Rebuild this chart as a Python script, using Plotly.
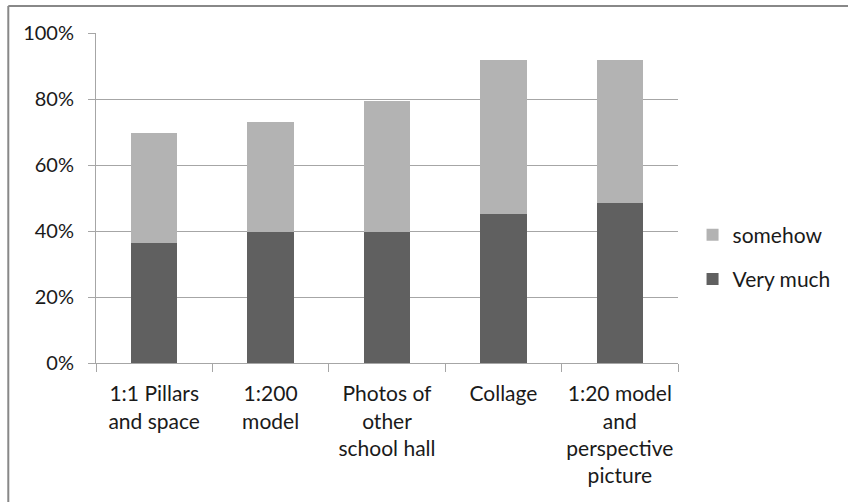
import plotly.graph_objects as go

# Survey answers: share of respondents per presentation method
categories = [
    "1:1 Pillars<br>and space",
    "1:200<br>model",
    "Photos of<br>other<br>school hall",
    "Collage",
    "1:20 model<br>and<br>perspective<br>picture",
]
very_much = [0.364, 0.397, 0.397, 0.452, 0.485]
somehow = [0.333, 0.333, 0.397, 0.466, 0.433]

FONT = "Lato"
TEXT = "#1a1a1a"
GRID = "#a6a6a6"

fig = go.Figure()
fig.add_trace(go.Bar(
    x=categories, y=very_much, name="Very much",
    marker=dict(color="#606060", line=dict(width=0)),
    legendgroup="a", legendrank=2,
))
fig.add_trace(go.Bar(
    x=categories, y=somehow, name="somehow",
    marker=dict(color="#b3b3b3", line=dict(width=0)),
    legendgroup="b", legendrank=1,
))

fig.update_layout(
    width=848, height=502,
    margin=dict(l=96, r=168, t=33, b=139),
    barmode="stack",
    bargap=0.6,
    paper_bgcolor="white",
    plot_bgcolor="white",
    font=dict(family=FONT, size=21, color=TEXT),
    showlegend=True,
    legend=dict(
        x=1.025, y=0.321, xanchor="left", yanchor="middle",
        traceorder="grouped",
        tracegroupgap=14,
        font=dict(family=FONT, size=21, color=TEXT),
        itemwidth=30,
        bgcolor="rgba(0,0,0,0)",
    ),
    xaxis=dict(
        showgrid=False,
        showline=True, linecolor=GRID, linewidth=1,
        ticks="outside", tickson="boundaries", ticklen=8,
        tickcolor=GRID, tickwidth=1,
        ticklabelstandoff=12,
        tickfont=dict(family=FONT, size=21, color=TEXT),
        fixedrange=True,
    ),
    yaxis=dict(
        range=[0, 1], dtick=0.2, tickformat=".0%",
        showgrid=True, gridcolor=GRID, gridwidth=1,
        showline=True, linecolor=GRID, linewidth=1,
        ticks="outside", ticklen=7, tickcolor=GRID, tickwidth=1,
        ticklabelstandoff=10,
        tickfont=dict(family=FONT, size=20, color=TEXT),
        zeroline=False,
        fixedrange=True,
    ),
    shapes=[
        # chart frame (top and left edges)
        dict(type="line", xref="paper", yref="paper",
             x0=-0.1507, x1=1.35, y0=1.0817, y1=1.0817,
             line=dict(color="#888888", width=2)),
        dict(type="line", xref="paper", yref="paper",
             x0=-0.1507, x1=-0.1507, y0=1.0817, y1=-0.5,
             line=dict(color="#888888", width=2)),
    ],
)

fig.write_html("out.html")
